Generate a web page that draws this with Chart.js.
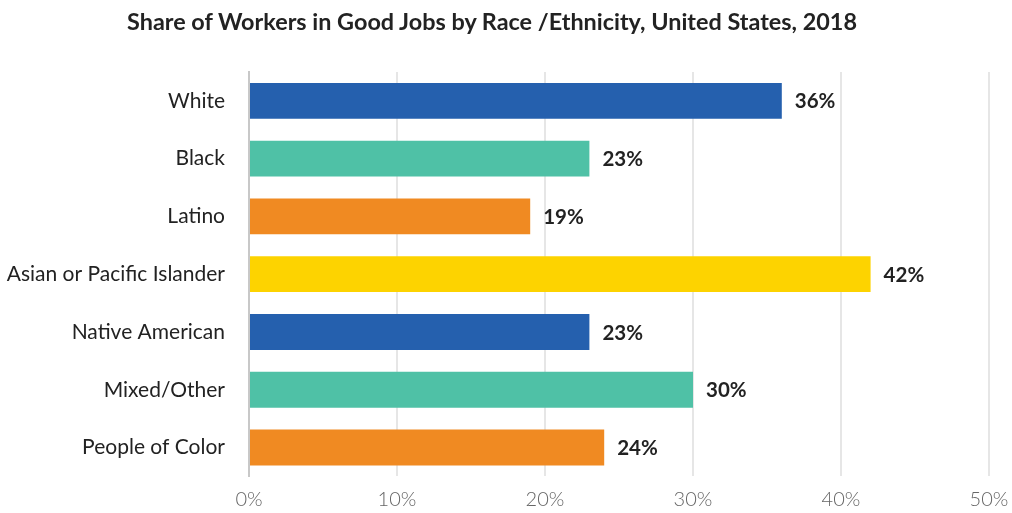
<!DOCTYPE html>
<html>
<head>
<meta charset="utf-8">
<script src="https://cdn.jsdelivr.net/npm/chart.js@4/dist/chart.umd.min.js"></script>
<style>
  body { margin: 0; background: #fff; }
  #wrap { position: relative; width: 1012px; height: 513px; }
  #titulo {
    position: absolute; top: 7px; left: 0; width: 984px; text-align: center;
    font-family: Lato, sans-serif; font-weight: bold; font-size: 23.4px; color: #222;
  }
</style>
</head>
<body>
<div id="wrap">
  <div id="titulo">Share of Workers in Good Jobs by Race /Ethnicity, United States, 2018</div>
  <canvas id="miGrafico" width="1012" height="513"></canvas>
</div>
<script>
const grupos = ['White', 'Black', 'Latino', 'Asian or Pacific Islander', 'Native American', 'Mixed/Other', 'People of Color'];
const valores = [36, 23, 19, 42, 23, 30, 24];
const colores = ['#2560ae', '#4fc1a6', '#f08a22', '#fdd300', '#2560ae', '#4fc1a6', '#f08a22'];
const ticksX = [0, 10, 20, 30, 40, 50];

// etiquetas de valor al final de cada barra
const etiquetas = {
  id: 'etiquetas',
  afterDatasetsDraw(chart) {
    const ctx = chart.ctx;
    const meta = chart.getDatasetMeta(0);
    ctx.save();
    ctx.font = 'bold 20.5px Lato';
    ctx.fillStyle = '#222';
    ctx.textAlign = 'left';
    ctx.textBaseline = 'middle';
    meta.data.forEach((bar, i) => {
      ctx.fillText(valores[i] + '%', bar.x + 13, bar.y + 1);
    });
    ctx.restore();
  }
};

document.addEventListener('DOMContentLoaded', () => {
  const canvas = document.getElementById('miGrafico');
  new Chart(canvas.getContext('2d'), {
    type: 'bar',
    data: {
      labels: grupos,
      datasets: [{
        data: valores,
        backgroundColor: colores,
        categoryPercentage: 0.62,
        barPercentage: 1
      }]
    },
    options: {
      indexAxis: 'y',
      responsive: false,
      animation: false,
      layout: { padding: { top: 72, right: 23, left: 0, bottom: 0 } },
      plugins: { legend: { display: false }, tooltip: { enabled: false } },
      scales: {
        x: {
          min: 0,
          max: 50,
          afterBuildTicks(scale) { scale.ticks = ticksX.map(v => ({ value: v })); },
          afterFit(scale) {
            scale.height = 36;
            scale.paddingLeft = 0;
            scale.paddingRight = 0;
          },
          ticks: {
            callback: v => v + '%',
            color: '#666',
            padding: 11,
            font: { family: 'Lato', size: 20, weight: '300' }
          },
          grid: { color: '#e6e6e6', lineWidth: 2, drawTicks: false },
          border: { display: false }
        },
        y: {
          afterFit(scale) { scale.width = 249; },
          ticks: {
            color: '#222',
            padding: 24,
            font: { family: 'Lato', size: 21 }
          },
          grid: { display: false, drawTicks: false },
          border: { display: true, color: '#c8c8c8', width: 2 }
        }
      }
    },
    plugins: [etiquetas]
  });
});
</script>
</body>
</html>
